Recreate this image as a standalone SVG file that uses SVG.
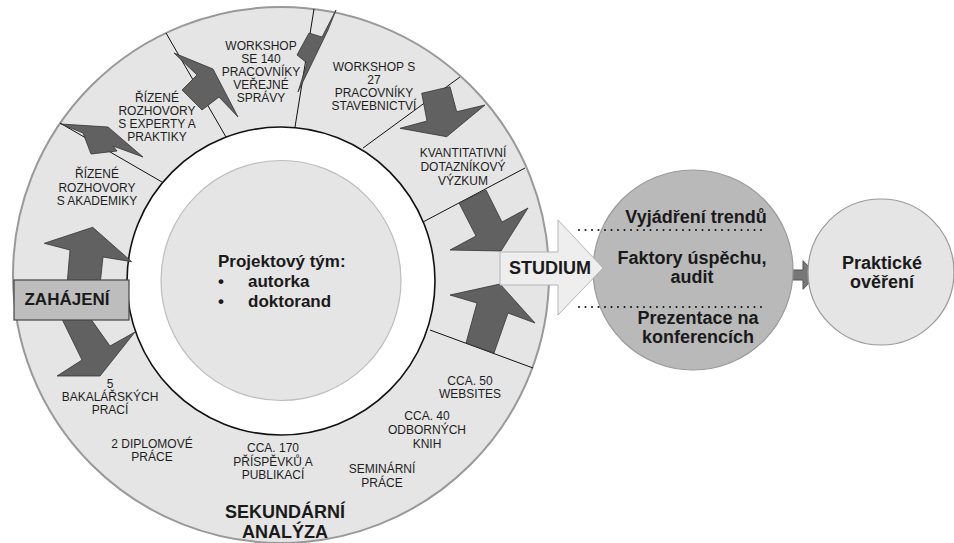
<svg xmlns="http://www.w3.org/2000/svg" width="954" height="543" viewBox="0 0 954 543">
<style>
text{font-family:"Liberation Sans",Arial,sans-serif;fill:#1e1e1e}
.s{font-size:12px;text-anchor:middle}
.b{font-weight:bold;fill:#1a1a1a}
.arr{fill:#616161;stroke:#333;stroke-width:0.8;stroke-linejoin:miter}
.div{stroke:#111;stroke-width:1;fill:none}
.dot{stroke:#111;stroke-width:2;stroke-linecap:round;stroke-dasharray:0 6.5}
</style>
<rect width="954" height="543" fill="#fff"/>
<g id="ring">
<circle cx="281" cy="275" r="268" fill="#e5e5e5" stroke="#999" stroke-width="2"/>
<circle cx="281" cy="281" r="154" fill="#fff" stroke="#111" stroke-width="1.6"/>
</g>
<g id="connectors">
<line class="div" x1="60" y1="123" x2="162" y2="182"/>
<line class="div" x1="166" y1="33" x2="226" y2="137"/>
<line class="div" x1="314" y1="9" x2="295" y2="127"/>
<line class="div" x1="460" y1="77" x2="363" y2="148"/>
<line class="div" x1="525" y1="168" x2="423" y2="222"/>
<line class="div" x1="430" y1="330" x2="533" y2="368"/>
<polygon class="arr" points="44.3,243.3 92.7,227.3 131.7,261.7 103,257 100,285 67,285 70,250"/>
<polygon class="arr" points="60,315 82,360 57,376 100,376 135,332 110,346 88,315"/>
<polygon class="arr" points="61,124 108,127 143,157 113,146 117,151 91,154 83,133"/>
<polygon class="arr" points="174,53 213,69 238,117 219,97 202,110 182,90 197,75"/>
<polygon class="arr" points="336,10 322,37 309,33 297,55 307,63 298,92 328,30"/>
<polygon class="arr" points="421.7,93.3 450,86.7 456.7,111.7 485,105 446.7,136.7 400,128.3 427,121"/>
<polygon class="arr" points="459,203 486,190 502,222 528,208 501,251 450,250 476,236"/>
<polygon class="arr" points="500,284 535,323 508,313 494,353 466,343 477,303 450,295"/>
<polygon fill="#777" stroke="#555" stroke-width="1" points="785,270 803,270 803,260.7 816.7,275 803,289.3 803,280 785,280"/>
</g>
<g id="team">
<circle cx="281" cy="280.5" r="120" fill="#e5e5e5" stroke="#bdbdbd" stroke-width="1.2"/>
<text class="b" x="218" y="267" font-size="17">Projektový tým:</text>
<text class="b" x="218" y="287" font-size="17">•</text>
<text class="b" x="248" y="287" font-size="17">autorka</text>
<text class="b" x="218" y="307" font-size="17">•</text>
<text class="b" x="248" y="307" font-size="17">doktorand</text>
</g>
<g id="results">
<circle cx="693" cy="270" r="100" fill="#b9b9b9" stroke="#9a9a9a" stroke-width="1.2"/>
<line class="dot" x1="579" y1="230" x2="763" y2="230"/>
<line class="dot" x1="579" y1="307" x2="763" y2="307"/>
<text class="b" x="696" y="223" font-size="18" text-anchor="middle">Vyjádření trendů</text>
<text class="b" x="692" y="264" font-size="18" text-anchor="middle">Faktory úspěchu,</text>
<text class="b" x="692" y="283" font-size="18" text-anchor="middle">audit</text>
<text class="b" x="698" y="324" font-size="18" text-anchor="middle">Prezentace na</text>
<text class="b" x="698" y="343" font-size="18" text-anchor="middle">konferencích</text>
</g>
<g id="studium">
<polygon fill="#eeeeee" stroke="#b5b5b5" stroke-width="1" points="500,252 558,252 558,220 603,268 558,315 558,285 500,285"/>
<text class="b" x="550" y="274" font-size="18" text-anchor="middle">STUDIUM</text>
</g>
<g id="verify">
<circle cx="881" cy="272" r="73" fill="#e5e5e5" stroke="#9a9a9a" stroke-width="1.2"/>
<text class="b" x="882" y="269" font-size="18" text-anchor="middle">Praktické</text>
<text class="b" x="882" y="288" font-size="18" text-anchor="middle">ověření</text>
</g>
<g id="start">
<rect x="14" y="280" width="115" height="40" fill="#bdbdbd" stroke="#444" stroke-width="1.2"/>
<text class="b" x="67" y="305" font-size="17" text-anchor="middle">ZAHÁJENÍ</text>
</g>
<g id="labels">
<text class="s" x="97" y="178">ŘÍZENÉ</text>
<text class="s" x="97" y="192">ROZHOVORY</text>
<text class="s" x="97" y="205">S AKADEMIKY</text>
<text class="s" x="157" y="102">ŘÍZENÉ</text>
<text class="s" x="157" y="115">ROZHOVORY</text>
<text class="s" x="157" y="128">S EXPERTY A</text>
<text class="s" x="157" y="141">PRAKTIKY</text>
<text class="s" x="261" y="50">WORKSHOP</text>
<text class="s" x="261" y="63">SE 140</text>
<text class="s" x="261" y="76">PRACOVNÍKY</text>
<text class="s" x="261" y="89">VEŘEJNÉ</text>
<text class="s" x="261" y="102">SPRÁVY</text>
<text class="s" x="374" y="71">WORKSHOP S</text>
<text class="s" x="374" y="84">27</text>
<text class="s" x="374" y="97">PRACOVNÍKY</text>
<text class="s" x="374" y="110">STAVEBNICTVÍ</text>
<text class="s" x="463" y="157">KVANTITATIVNÍ</text>
<text class="s" x="463" y="171">DOTAZNÍKOVÝ</text>
<text class="s" x="463" y="185">VÝZKUM</text>
<text class="s" x="470" y="385">CCA. 50</text>
<text class="s" x="470" y="398">WEBSITES</text>
<text class="s" x="427" y="420">CCA. 40</text>
<text class="s" x="427" y="434">ODBORNÝCH</text>
<text class="s" x="427" y="448">KNIH</text>
<text class="s" x="382" y="473">SEMINÁRNÍ</text>
<text class="s" x="382" y="487">PRÁCE</text>
<text class="s" x="273" y="452">CCA. 170</text>
<text class="s" x="273" y="466">PŘÍSPĚVKŮ A</text>
<text class="s" x="273" y="479">PUBLIKACÍ</text>
<text class="s" x="152" y="448">2 DIPLOMOVÉ</text>
<text class="s" x="152" y="461">PRÁCE</text>
<text class="s" x="110" y="388">5</text>
<text class="s" x="110" y="401">BAKALÁŘSKÝCH</text>
<text class="s" x="110" y="414">PRACÍ</text>
<text class="b" x="285" y="518" font-size="18" text-anchor="middle">SEKUNDÁRNÍ</text>
<text class="b" x="285" y="538" font-size="18" text-anchor="middle">ANALÝZA</text>
</g>
</svg>
